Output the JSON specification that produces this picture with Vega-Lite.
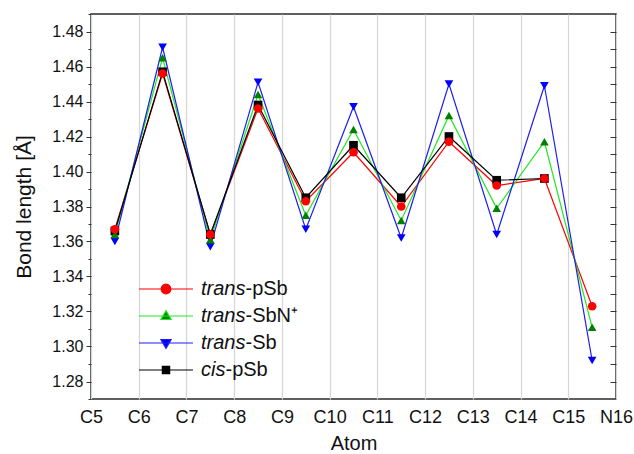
{
  "$schema": "https://vega.github.io/schema/vega-lite/v6.json",
  "width": 525,
  "height": 385,
  "autosize": {"type": "none"},
  "padding": {"left": 91, "top": 14, "right": 18, "bottom": 55},
  "background": "white",
  "config": {
    "font": "Liberation Sans",
    "view": {"stroke": "#2b2b2b", "strokeWidth": 1.5},
    "axis": {"labelColor": "#111", "titleColor": "#111", "domain": false, "titleFontWeight": "normal", "tickColor": "#333"}
  },
  "data": {
    "values": [
      {"series": "trans-pSb", "x": 0.5, "y": 1.367},
      {"series": "trans-pSb", "x": 1.5, "y": 1.456},
      {"series": "trans-pSb", "x": 2.5, "y": 1.364},
      {"series": "trans-pSb", "x": 3.5, "y": 1.436},
      {"series": "trans-pSb", "x": 4.5, "y": 1.383},
      {"series": "trans-pSb", "x": 5.5, "y": 1.411},
      {"series": "trans-pSb", "x": 6.5, "y": 1.380},
      {"series": "trans-pSb", "x": 7.5, "y": 1.417},
      {"series": "trans-pSb", "x": 8.5, "y": 1.392},
      {"series": "trans-pSb", "x": 9.5, "y": 1.396},
      {"series": "trans-pSb", "x": 10.5, "y": 1.323},
      {"series": "trans-SbN⁺", "x": 0.5, "y": 1.364},
      {"series": "trans-SbN⁺", "x": 1.5, "y": 1.465},
      {"series": "trans-SbN⁺", "x": 2.5, "y": 1.361},
      {"series": "trans-SbN⁺", "x": 3.5, "y": 1.444},
      {"series": "trans-SbN⁺", "x": 4.5, "y": 1.375},
      {"series": "trans-SbN⁺", "x": 5.5, "y": 1.424},
      {"series": "trans-SbN⁺", "x": 6.5, "y": 1.372},
      {"series": "trans-SbN⁺", "x": 7.5, "y": 1.432},
      {"series": "trans-SbN⁺", "x": 8.5, "y": 1.379},
      {"series": "trans-SbN⁺", "x": 9.5, "y": 1.417},
      {"series": "trans-SbN⁺", "x": 10.5, "y": 1.311},
      {"series": "trans-Sb", "x": 0.5, "y": 1.360},
      {"series": "trans-Sb", "x": 1.5, "y": 1.471},
      {"series": "trans-Sb", "x": 2.5, "y": 1.357},
      {"series": "trans-Sb", "x": 3.5, "y": 1.451},
      {"series": "trans-Sb", "x": 4.5, "y": 1.367},
      {"series": "trans-Sb", "x": 5.5, "y": 1.437},
      {"series": "trans-Sb", "x": 6.5, "y": 1.362},
      {"series": "trans-Sb", "x": 7.5, "y": 1.450},
      {"series": "trans-Sb", "x": 8.5, "y": 1.364},
      {"series": "trans-Sb", "x": 9.5, "y": 1.449},
      {"series": "trans-Sb", "x": 10.5, "y": 1.292},
      {"series": "cis-pSb", "x": 0.5, "y": 1.366},
      {"series": "cis-pSb", "x": 1.5, "y": 1.457},
      {"series": "cis-pSb", "x": 2.5, "y": 1.364},
      {"series": "cis-pSb", "x": 3.5, "y": 1.438},
      {"series": "cis-pSb", "x": 4.5, "y": 1.385},
      {"series": "cis-pSb", "x": 5.5, "y": 1.415},
      {"series": "cis-pSb", "x": 6.5, "y": 1.385},
      {"series": "cis-pSb", "x": 7.5, "y": 1.420},
      {"series": "cis-pSb", "x": 8.5, "y": 1.395},
      {"series": "cis-pSb", "x": 9.5, "y": 1.396}
    ]
  },
  "resolve": {"axis": {"x": "independent", "y": "independent"}, "legend": {"color": "independent", "fill": "independent"}},
  "layer": [
    {
      "mark": {"type": "line", "strokeWidth": 1.2},
      "encoding": {
        "x": {"field": "x", "type": "quantitative", "scale": {"domain": [0, 11], "nice": false, "zero": false},
          "axis": {"orient": "bottom", "values": [0, 1, 2, 3, 4, 5, 6, 7, 8, 9, 10, 11], "labelExpr": "datum.value == 11 ? 'N16' : 'C' + (datum.value + 5)",
            "grid": true, "gridColor": "#d6d6d6", "gridWidth": 1.2, "ticks": false, "labelFontSize": 18, "labelPadding": 9, "labelFlush": false,
            "title": "Atom", "titleFontSize": 20, "titlePadding": 7}},
        "y": {"field": "y", "type": "quantitative", "scale": {"domain": [1.27, 1.49], "nice": false, "zero": false},
          "axis": {"orient": "left", "values": [1.28, 1.30, 1.32, 1.34, 1.36, 1.38, 1.40, 1.42, 1.44, 1.46, 1.48], "format": ".2f", "grid": false, "tickSize": 5,
            "labelFontSize": 16, "labelPadding": 3, "title": "Bond length [Å]", "titleFontSize": 21, "titlePadding": 17}},
        "color": {"field": "series", "type": "nominal", "sort": null,
          "scale": {"range": ["#ff0000", "#22e622", "#1f1fef", "#000000"]},
          "legend": {
            "orient": "none", "legendX": 47, "legendY": 265, "title": null, "padding": 0,
            "clipHeight": 20, "rowPadding": 7, "symbolSize": 2916, "symbolStrokeWidth": 1.2,
            "labelFontSize": 20, "labelFontStyle": "italic", "labelOffset": 7, "labelColor": "#111",
            "labelExpr": "substring(datum.label, 0, indexof(datum.label, '-'))",
            "encode": {
              "symbols": {
                "update": {
                  "shape": {"signal": "datum.value === 'trans-pSb' ? 'M-1,0L1,0M0.18,0C0.18,0.1,0.1,0.18,0,0.18C-0.1,0.18,-0.18,0.1,-0.18,0C-0.18,-0.1,-0.1,-0.18,0,-0.18C0.1,-0.18,0.18,-0.1,0.18,0Z' : datum.value === 'trans-Sb' ? 'M-1,0L1,0M0,0.2L0.19,-0.13L-0.19,-0.13Z' : datum.value === 'cis-pSb' ? 'M-1,0L1,0M-0.135,-0.135L0.135,-0.135L0.135,0.135L-0.135,0.135Z' : 'M-1,0L1,0M0,-0.2L0.19,0.13L-0.19,0.13Z'"},
                  "fill": {"signal": "datum.value === 'trans-pSb' ? '#ff0000' : datum.value === 'trans-Sb' ? '#0000ff' : datum.value === 'cis-pSb' ? '#000000' : '#008000'"},
                  "stroke": {"signal": "datum.value === 'trans-pSb' ? '#ff0000' : datum.value === 'trans-Sb' ? '#1f1fef' : datum.value === 'cis-pSb' ? '#000000' : '#22e622'"},
                  "strokeWidth": {"value": 1.2},
                  "opacity": {"value": 1},
                  "size": {"value": 2916}
                }
              }
            }
          }}
      }
    },
    {
      "mark": {"type": "point", "opacity": 0},
      "encoding": {
        "x": {"field": "x", "type": "quantitative", "scale": {"domain": [0, 11], "nice": false, "zero": false}, "axis": null},
        "y": {"field": "y", "type": "quantitative", "scale": {"domain": [1.27, 1.49], "nice": false, "zero": false},
          "axis": {"orient": "left", "values": [1.27, 1.29, 1.31, 1.33, 1.35, 1.37, 1.39, 1.41, 1.43, 1.45, 1.47, 1.49], "labels": false, "tickSize": 3, "grid": false, "title": null}}
      }
    },
    {
      "mark": {"type": "point", "filled": true, "opacity": 1, "strokeWidth": 0},
      "encoding": {
        "x": {"field": "x", "type": "quantitative", "scale": {"domain": [0, 11], "nice": false, "zero": false}, "axis": null},
        "y": {"field": "y", "type": "quantitative", "scale": {"domain": [1.27, 1.49], "nice": false, "zero": false},
          "axis": {"orient": "right", "values": [1.28, 1.29, 1.30, 1.31, 1.32, 1.33, 1.34, 1.35, 1.36, 1.37, 1.38, 1.39, 1.40, 1.41, 1.42, 1.43, 1.44, 1.45, 1.46, 1.47, 1.48], "labels": false, "tickSize": -6, "grid": false, "title": null}},
        "fill": {"field": "series", "type": "nominal",
          "scale": {"domain": ["trans-pSb", "trans-SbN⁺", "trans-Sb", "cis-pSb"], "range": ["#ff0000", "#008000", "#0000ff", "#000000"]},
          "legend": {
            "orient": "none", "legendX": 134.5, "legendY": 265, "title": null, "padding": 0,
            "rowPadding": 7, "symbolSize": 1, "symbolStrokeWidth": 0, "symbolOpacity": 0,
            "labelFontSize": 20, "labelFontStyle": "normal", "labelOffset": 0, "labelColor": "#111",
            "labelExpr": "substring(datum.label, indexof(datum.label, '-'))",
            "encode": {"labels": {"update": {"dx": {"signal": "datum.value === 'cis-pSb' ? -20 : 0"}}}}
          }},
        "shape": {"field": "series", "type": "nominal",
          "scale": {"domain": ["trans-pSb", "trans-SbN⁺", "trans-Sb", "cis-pSb"], "range": ["circle", "triangle-up", "triangle-down", "square"]},
          "legend": null},
        "size": {"value": 75},
        "order": {"field": "series", "sort": "ascending"}
      }
    }
  ]
}
